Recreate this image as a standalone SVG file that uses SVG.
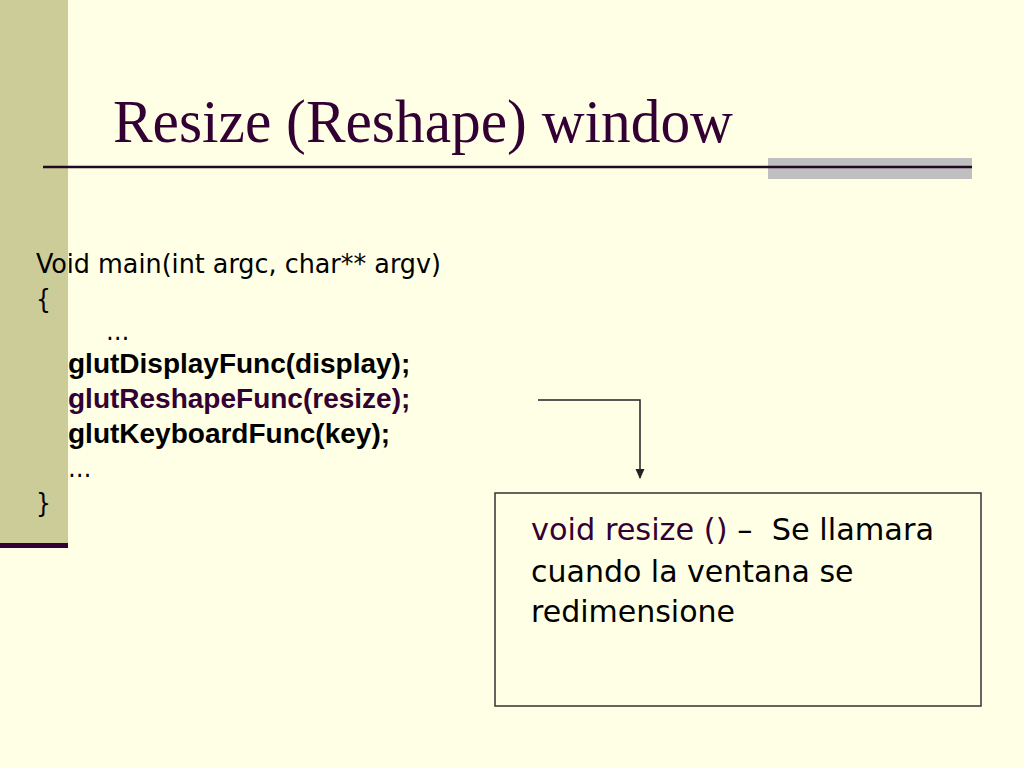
<svg xmlns="http://www.w3.org/2000/svg" width="1024" height="768" viewBox="0 0 1024 768">
<style>
.code{font-family:"DejaVu Sans Condensed","DejaVu Sans",Tahoma,sans-serif;font-stretch:condensed;font-size:26px;fill:#000}
.bold{font-family:"Liberation Sans",Arial,sans-serif;font-weight:bold;font-size:28px;fill:#000}
.box{font-family:"DejaVu Sans",Tahoma,sans-serif;font-size:30px;fill:#000}
.purple{fill:#330033}
</style>
<defs>
<marker id="arr" markerWidth="10" markerHeight="10" refX="9" refY="5" orient="auto" markerUnits="userSpaceOnUse">
<path d="M0,0.5 L10,5 L0,9.5 z" fill="#222"/>
</marker>
</defs>
<rect width="1024" height="768" fill="#FFFFE5"/>
<rect x="0" y="0" width="68" height="548" fill="#CCCC99"/>
<rect x="0" y="543" width="68" height="5" fill="#330033"/>
<rect x="768" y="158" width="204" height="21" fill="#BFBFBF"/>
<line x1="43" y1="167" x2="972" y2="167" stroke="#220822" stroke-width="2.5"/>
<text x="113" y="142" font-family="Liberation Serif,'Times New Roman',serif" font-size="62" fill="#330033" textLength="620" lengthAdjust="spacingAndGlyphs">Resize (Reshape) window</text>
<g id="code">
<text class="code" x="36" y="273" textLength="405" lengthAdjust="spacingAndGlyphs">Void main(int argc, char** argv)</text>
<text class="code" x="36" y="308">{</text>
<text class="code" x="106" y="340">…</text>
<text class="bold" x="68" y="373">glutDisplayFunc(display);</text>
<text class="bold purple" x="68" y="408">glutReshapeFunc(resize);</text>
<text class="bold" x="68" y="443">glutKeyboardFunc(key);</text>
<text class="code" x="68" y="477">…</text>
<text class="code" x="36" y="512">}</text>
</g>
<g id="connectors">
<polyline points="538,400 640,400 640,478" fill="none" stroke="#222" stroke-width="1.5" marker-end="url(#arr)"/>
</g>
<g id="resize-box">
<rect x="495" y="493" width="486" height="213" fill="none" stroke="#333" stroke-width="1.5"/>
<text class="box" x="531" y="540" xml:space="preserve" textLength="403" lengthAdjust="spacingAndGlyphs"><tspan class="purple">void resize () </tspan>–  Se llamara</text>
<text class="box" x="531" y="582">cuando la ventana se</text>
<text class="box" x="531" y="622">redimensione</text>
</g>
</svg>
